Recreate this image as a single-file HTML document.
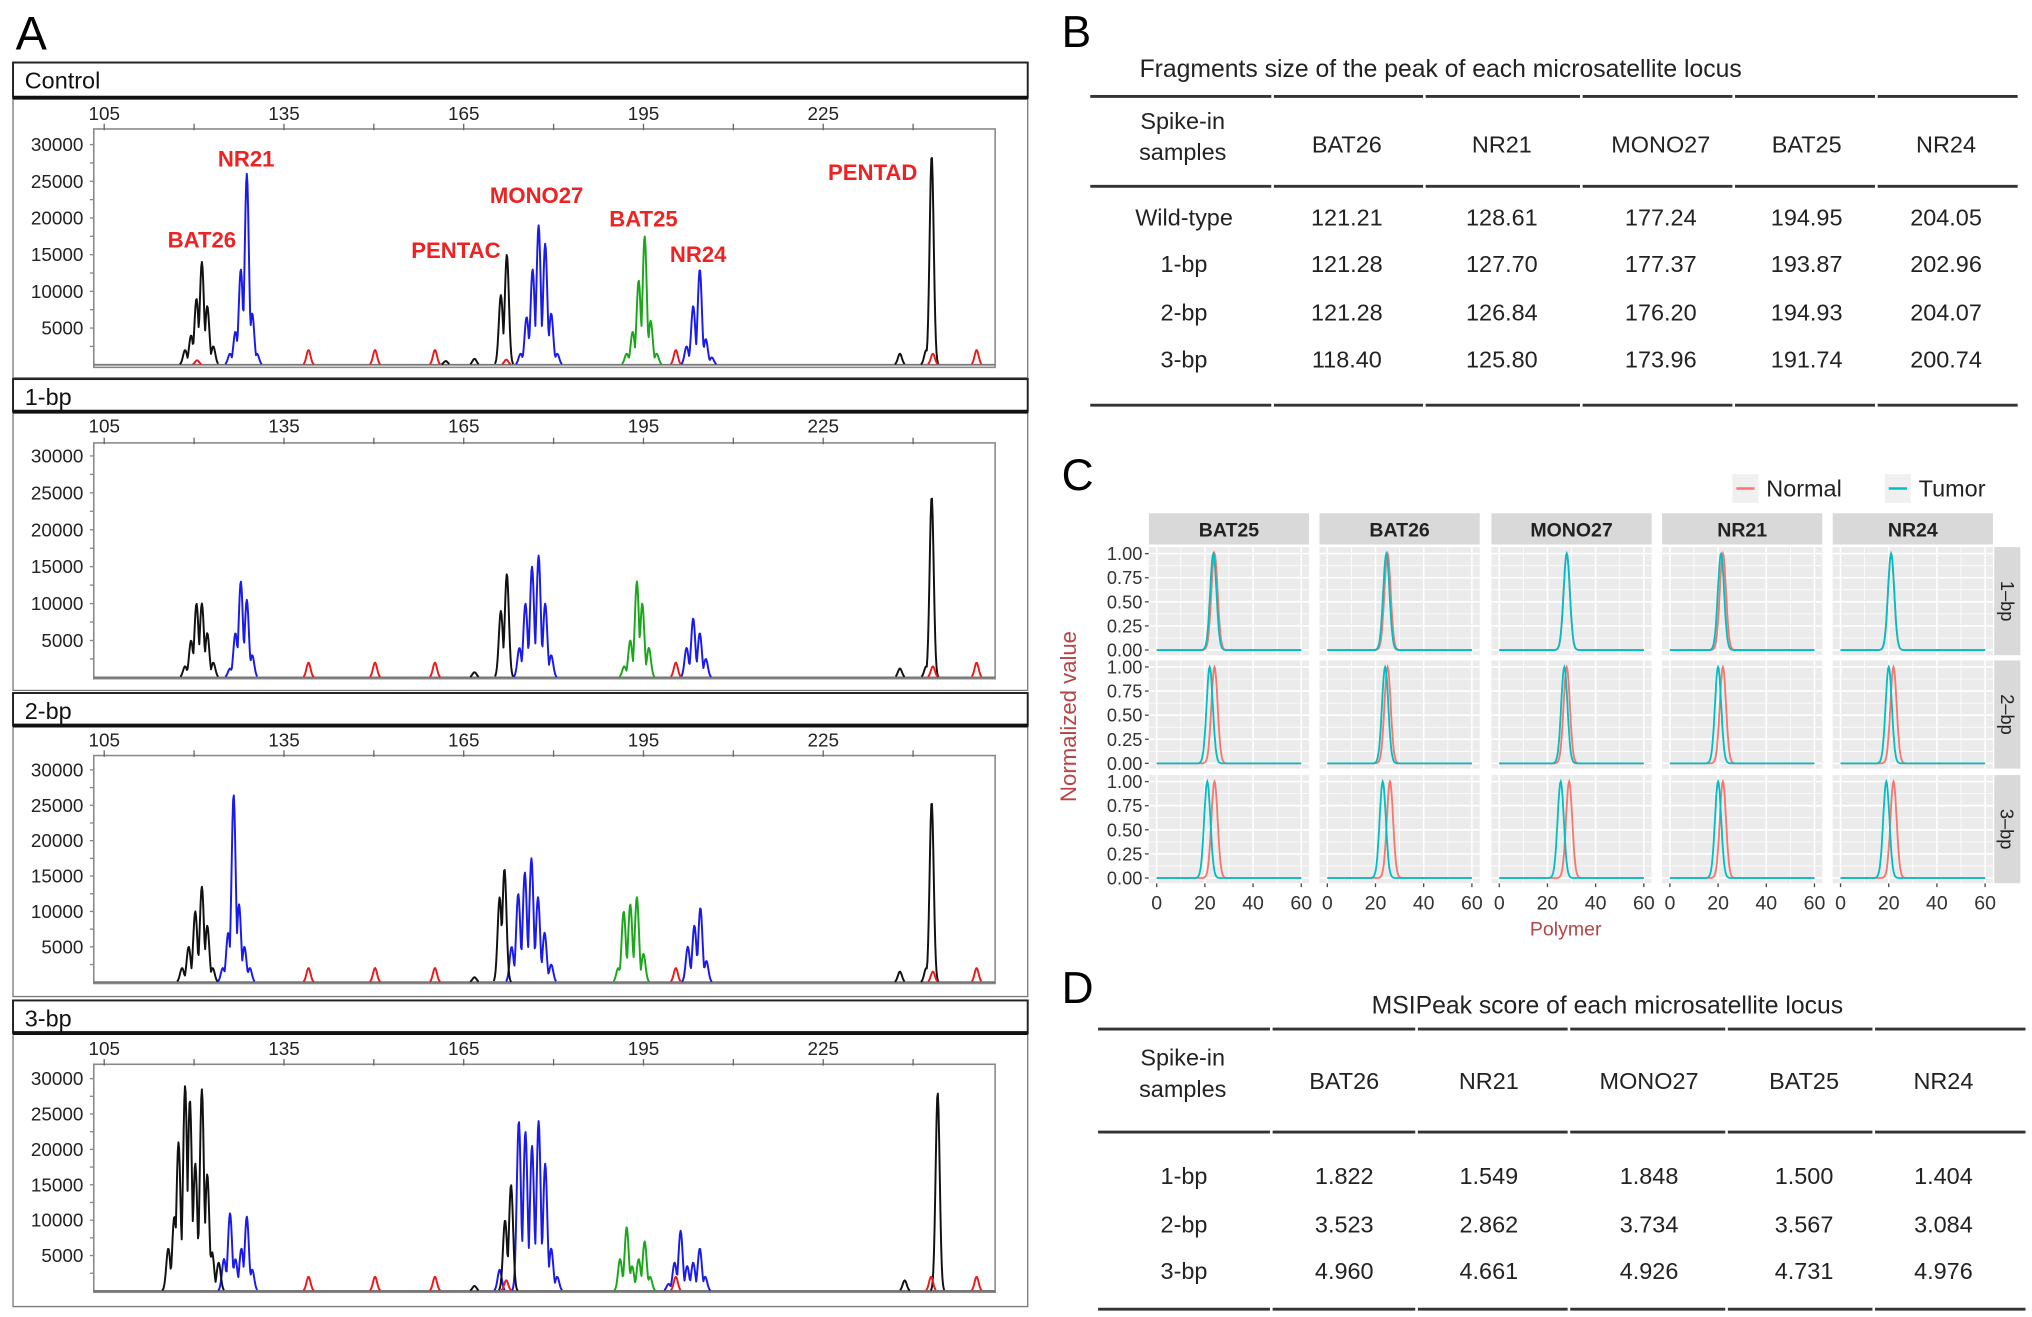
<!DOCTYPE html>
<html><head><meta charset="utf-8"><style>
html,body{margin:0;padding:0;background:#fff}
svg{display:block}
text{font-family:"Liberation Sans",Arial,sans-serif}
</style></head><body>
<svg id="fig" xmlns="http://www.w3.org/2000/svg" width="2032" height="1317" viewBox="0 0 1560 1011" preserveAspectRatio="none">
<rect x="0" y="0" width="1560" height="1011" fill="#fff"/>
<g id="panelA"></g>
<g id="panelB"></g>
<g id="panelC"></g>
<g id="panelD"></g>
</svg>
<script>
// ===== Panel A data (bp position, RFU height) =====
const panelNames = ["Control","1-bp","2-bp","3-bp"];
const xTickLabels = [105,135,165,195,225];
const yTickLabels = [5000,10000,15000,20000,25000,30000];
const ctrlBlack = [[118.5,2000],[119.5,4000],[120.4,9000],[121.3,14000],[122.2,8000],[123.2,2500],[166.8,800],[162,500],[171.2,9500],[172.2,15000],[237.8,1500],[242.2,2000],[243.1,28500]];
const ctrlBlue = [[126.0,1500],[126.9,4500],[127.8,13000],[128.8,26000],[129.7,7000],[130.5,1500],[174.5,1500],[175.5,6500],[176.5,13000],[177.5,19000],[178.6,16500],[179.6,7000],[180.6,1500],[202.2,2500],[203.3,8000],[204.4,13000],[205.4,3500],[206.4,1000]];
const ctrlGreen = [[192.2,1500],[193.2,4500],[194.2,11500],[195.2,17500],[196.2,6000],[197.2,1500]];
const ctrlRed = [[139.1,2000],[150.2,2000],[160.2,2000],[200.4,2000],[243.3,1500],[250.6,2000],[120.5,600],[172.1,700]];
const bp1Black = [[118.5,1500],[119.5,5000],[120.4,10000],[121.3,10000],[122.2,6000],[123.2,2000],[166.8,700],[171.2,9000],[172.2,14000],[237.8,1200],[242.2,1500],[243.1,24500]];
const bp1Blue = [[126.0,1200],[126.9,6000],[127.8,13000],[128.8,10500],[129.7,3000],[174.3,4000],[175.3,10000],[176.4,15000],[177.5,16500],[178.6,10000],[179.6,3000],[202.2,4000],[203.3,8000],[204.4,6000],[205.4,2500]];
const bp1Green = [[191.8,1500],[192.8,5000],[193.9,13000],[194.8,10000],[195.9,4000]];
const bp1Red = [[139.1,2000],[150.2,2000],[160.2,2000],[200.4,2000],[243.3,1500],[250.6,2000]];
const bp2Black = [[118.0,2000],[119.1,5000],[120.2,10000],[121.3,13500],[122.2,8000],[123.1,2000],[166.8,700],[171.0,12000],[171.8,16000],[237.8,1500],[242.2,2000],[243.1,25500]];
const bp2Blue = [[124.8,2000],[125.7,7000],[126.6,26500],[127.5,11000],[128.4,5000],[129.3,2000],[173.0,5000],[174.1,12500],[175.2,15500],[176.3,17500],[177.4,12000],[178.5,7000],[179.6,2500],[202.4,5000],[203.5,8000],[204.5,10500],[205.5,3000]];
const bp2Green = [[190.8,2000],[191.7,10000],[192.8,11000],[193.9,12000],[195.0,4000]];
const bp2Red = [[139.1,2000],[150.2,2000],[160.2,2000],[200.4,2000],[243.3,1500],[250.6,2000]];
const bp3Black = [[115.7,6000],[116.7,10500],[117.4,21000],[118.5,29000],[119.3,27000],[120.2,18000],[121.3,28500],[122.2,16500],[123.0,5500],[124.1,4000],[166.8,700],[171.9,10000],[172.9,15000],[238.6,1500],[244.1,28000]];
const bp3Blue = [[125.0,4500],[126.0,11000],[126.9,4500],[127.9,6000],[128.8,10500],[129.7,3000],[171.0,3000],[174.2,24000],[175.3,22500],[176.4,20500],[177.5,24000],[178.6,18000],[179.6,6000],[180.6,2000],[199.2,1000],[200.2,4000],[201.2,8500],[202.3,3500],[203.3,4000],[204.4,6000],[205.3,2000]];
const bp3Green = [[191.1,4500],[192.2,9000],[193.1,3500],[194.2,4500],[195.2,7000],[196.1,2000]];
const bp3Red = [[139.1,2000],[150.2,2000],[160.2,2000],[172.1,1500],[200.4,2000],[243.0,2000],[250.6,2000]];

// ===== Panel C data (polymer peak positions) =====
const lociC = ["BAT25","BAT26","MONO27","NR21","NR24"];
const rowsC = ["1\u2013bp","2\u2013bp","3\u2013bp"];
const normalPeaks = [[24,25,28,22,21],[24,25,28,22,22],[24,26,29,22,22]];
const tumorPeaks = [[23.5,24.5,28,21.2,21],[22,24,27,20,20],[21,23,25.5,20,19]];
const yTicksC = ["0.00","0.25","0.50","0.75","1.00"];
const xTicksC = [0,20,40,60];

// ===== Tables =====
const tableCols = ["BAT26","NR21","MONO27","BAT25","NR24"];
const tableBRows = ["Wild-type","1-bp","2-bp","3-bp"];
const tableBVals = [["121.21","128.61","177.24","194.95","204.05"],["121.28","127.70","177.37","193.87","202.96"],["121.28","126.84","176.20","194.93","204.07"],["118.40","125.80","173.96","191.74","200.74"]];
const tableDRows = ["1-bp","2-bp","3-bp"];
const tableDVals = [["1.822","1.549","1.848","1.500","1.404"],["3.523","2.862","3.734","3.567","3.084"],["4.960","4.661","4.926","4.731","4.976"]];

const NS="http://www.w3.org/2000/svg";
function el(tag,attrs,parent,txt){const e=document.createElementNS(NS,tag);for(const k in attrs)e.setAttribute(k,attrs[k]);if(txt!==undefined)e.textContent=txt;parent.appendChild(e);return e;}

// ---------- Panel A ----------
const A=document.getElementById('panelA');
const tA=el('text',{x:12,y:38,'font-size':36},A,'A');


const layout=[{hTop:48,hBot:75,yTop:111,base:280,fTop:99,fBot:282,lab:87,boxBot:290},
{hTop:291,hBot:316,yTop:350,base:520,fTop:340,fBot:521,lab:327,boxBot:530},
{hTop:532,hBot:557,yTop:591,base:754,fTop:580,fBot:755,lab:568,boxBot:765},
{hTop:768,hBot:793,yTop:828,base:991,fTop:817,fBot:992,lab:805,boxBot:1003}];
const panelData=[[ctrlBlue,ctrlGreen,ctrlBlack,ctrlRed],[bp1Blue,bp1Green,bp1Black,bp1Red],[bp2Blue,bp2Green,bp2Black,bp2Red],[bp3Blue,bp3Green,bp3Black,bp3Red]];
const dyeColors=["#1a1aee","#1aa81a","#111","#ee1a1a"];
const dyeNames=["blue-dye","green-dye","black-dye","red-dye"];
const xA=v=>80+(v-105)*4.6;
const fL=72,fR=764;
layout.forEach((L,i)=>{
  const g=el('g',{},A);
  
  
  const yA=v=>L.base-v*(L.base-L.yTop)/30000;
  el('rect',{x:10,y:L.hTop,width:779,height:L.boxBot-L.hTop,fill:'none',stroke:'#777','stroke-width':1},g);
  el('rect',{x:10,y:L.hTop,width:779,height:L.hBot-L.hTop,fill:'#fff',stroke:'#222','stroke-width':1.5},g);
  el('line',{x1:10,x2:789,y1:L.hBot,y2:L.hBot,stroke:'#111','stroke-width':3},g);
  const ht=el('text',{x:19,y:L.hTop+20,'font-size':18,fill:'#111'},g,panelNames[i]);
  
  
  el('rect',{x:fL,y:L.fTop,width:fR-fL,height:L.fBot-L.fTop,fill:'none',stroke:'#888','stroke-width':1.2},g);
  for(let v=105;v<=240;v+=15){el('line',{x1:xA(v),x2:xA(v),y1:L.fTop-4,y2:L.fTop+1,stroke:'#666','stroke-width':1},g);}
  xTickLabels.forEach(v=>{const t=el('text',{x:xA(v),y:L.lab+5,'font-size':14.5,'text-anchor':'middle',fill:'#222'},g,v);
    
    });
  yTickLabels.forEach(v=>{const t=el('text',{x:64,y:yA(v)+5,'font-size':14.5,'text-anchor':'end',fill:'#222'},g,v);
    
    });
  for(let v=2500;v<=30000;v+=2500){el('line',{x1:fL-3,x2:fL,y1:yA(v),y2:yA(v),stroke:'#888','stroke-width':1},g);}
  el('line',{x1:fL,x2:fR,y1:L.base,y2:L.base,stroke:'#777','stroke-width':1.4},g);
  panelData[i].forEach((peaks,d)=>{
    let dstr='',on=false;
    for(let px=fL+1;px<=fR-1;px+=0.5){
      const v=105+(px-80)/4.6;let h=0;
      peaks.forEach(p=>{const s=0.34;const z=(v-p[0])/s;const val=p[1]*Math.exp(-0.5*z*z);if(val>h)h=val;});
      if(h>60){dstr+=(on?'L':'M')+px.toFixed(1)+' '+yA(h).toFixed(1);on=true;}
      else on=false;
    }
    const path=el('path',{d:dstr,fill:'none',stroke:dyeColors[d],'stroke-width':1.5,'stroke-linejoin':'round'},g);
    
    
  });
  if(i===0){
    const labs=[["BAT26",155,190],["NR21",189,128],["PENTAC",350,198],["MONO27",412,156],["BAT25",494,174],["NR24",536,201],["PENTAD",670,138]];
    labs.forEach(l=>{const t=el('text',{x:l[1],y:l[2],'font-size':17,'font-weight':'bold','text-anchor':'middle',fill:'#ee2222'},g,l[0]);
      
      });
  }
});

// ---------- Table helper ----------
function drawTable(P,title,titleX,titleY,x0,x1,lineYs,colX,headerY,rows,vals,rowY,nameP){
  const tt=el('text',{x:titleX,y:titleY,'font-size':19,'text-anchor':'middle',fill:'#222'},P,title);
  
  
  const bounds=[x0,0,0,0,0,0,x1];
  for(let c=1;c<6;c++)bounds[c]=(colX[c-1]+colX[c])/2+ (c===1?6:0);
  lineYs.forEach(y=>{for(let c=0;c<6;c++){el('line',{x1:bounds[c]+1,x2:bounds[c+1]-1,y1:y,y2:y,stroke:'#333','stroke-width':2.2},P);}});
  const sh1=el('text',{x:colX[0],y:headerY-11,'font-size':18,'text-anchor':'middle',fill:'#222'},P,'Spike-in');
  
  
  el('text',{x:colX[0],y:headerY+13,'font-size':18,'text-anchor':'middle',fill:'#222'},P,'samples');
  tableCols.forEach((c,j)=>{const t=el('text',{x:colX[j+1],y:headerY+7,'font-size':18,'text-anchor':'middle',fill:'#222'},P,c);
    
    });
  rows.forEach((r,i)=>{
    const t=el('text',{x:colX[0]+1,y:rowY[i]+7,'font-size':18,'text-anchor':'middle',fill:'#222'},P,r);
    
    
    vals[i].forEach((v,j)=>{const c=el('text',{x:colX[j+1],y:rowY[i]+7,'font-size':18,'text-anchor':'middle',fill:'#222'},P,v);
      
      });
  });
}
const B=document.getElementById('panelB');
const tB=el('text',{x:815,y:36,'font-size':34},B,'B');


drawTable(B,'Fragments size of the peak of each microsatellite locus',1106,59,836,1550,[74,143,311],[908,1034,1153,1275,1387,1494],110,tableBRows,tableBVals,[166,202,239,275],'table-b');

const D=document.getElementById('panelD');
const tD=el('text',{x:815,y:770,'font-size':34},D,'D');


drawTable(D,'MSIPeak score of each microsatellite locus',1234,778,842,1556,[790,869,1005],[908,1032,1143,1266,1385,1492],829,tableDRows,tableDVals,[902,939,975],'table-d');

// ---------- Panel C ----------
const C=document.getElementById('panelC');
const tC=el('text',{x:815,y:376,'font-size':34},C,'C');


const colL=[882,1013,1145,1276,1407],colW=123;
const rowT=[420,507,595],rowH=83;
const xC=(c,v)=>colL[c]+6+v*(colW-12)/60;
const yC=(r,v)=>rowT[r]+rowH-4-v*(rowH-9);
[["Normal","#f8766d",1330],["Tumor","#00bfc4",1447]].forEach(l=>{
  const lg=el('g',{},C);
  
  
  el('rect',{x:l[2],y:364,width:20,height:22,fill:'#f0f0f0'},lg);
  el('line',{x1:l[2]+3,x2:l[2]+17,y1:375,y2:375,stroke:l[1],'stroke-width':2},lg);
  el('text',{x:l[2]+26,y:381,'font-size':18,fill:'#222'},lg,l[0]);
});
lociC.forEach((name,c)=>{
  const s=el('rect',{x:colL[c],y:394,width:colW,height:24,fill:'#d9d9d9'},C);
  
  
  el('text',{x:colL[c]+colW/2,y:412,'font-size':15,'font-weight':'bold','text-anchor':'middle',fill:'#222'},C,name);
  xTicksC.forEach(v=>{
    el('line',{x1:xC(c,v),x2:xC(c,v),y1:rowT[2]+rowH,y2:rowT[2]+rowH+3,stroke:'#444','stroke-width':1},C);
    const t=el('text',{x:xC(c,v),y:rowT[2]+rowH+20,'font-size':15,'text-anchor':'middle',fill:'#333'},C,v);
    
    
  });
});
rowsC.forEach((rn,r)=>{
  const s=el('rect',{x:1531,y:rowT[r],width:20,height:rowH,fill:'#d9d9d9'},C);
  
  
  el('text',{x:1541,y:rowT[r]+rowH/2,'font-size':14,'text-anchor':'middle',fill:'#222',transform:'rotate(90 1541 '+(rowT[r]+rowH/2)+')',dy:5},C,rn);
  yTicksC.forEach((lab,k)=>{
    const v=k*0.25;
    el('line',{x1:colL[0]-3,x2:colL[0],y1:yC(r,v),y2:yC(r,v),stroke:'#444','stroke-width':1},C);
    const t=el('text',{x:colL[0]-5,y:yC(r,v)+5,'font-size':14,'text-anchor':'end',fill:'#333'},C,lab);
    
    
  });
  lociC.forEach((name,c)=>{
    const pg=el('g',{},C);
    
    
    el('rect',{x:colL[c],y:rowT[r],width:colW,height:rowH,fill:'#ebebeb'},pg);
    for(let v=0;v<=60;v+=10){el('line',{x1:xC(c,v),x2:xC(c,v),y1:rowT[r],y2:rowT[r]+rowH,stroke:'#fff','stroke-width':v%20===0?1.2:0.6},pg);}
    for(let k=0;k<=8;k++){const v=k*0.125;el('line',{x1:colL[c],x2:colL[c]+colW,y1:yC(r,v),y2:yC(r,v),stroke:'#fff','stroke-width':k%2===0?1.2:0.6},pg);}
    [[normalPeaks[r][c],'#f8766d','normal'],[tumorPeaks[r][c],'#00bfc4','tumor']].forEach(sr=>{
      let d='';
      for(let v=0;v<=60;v+=0.25){const z=(v-sr[0])/1.3;const h=Math.exp(-0.5*z*z);d+=(d?'L':'M')+xC(c,v).toFixed(1)+' '+yC(r,h).toFixed(1);}
      const p=el('path',{d:d,fill:'none',stroke:sr[1],'stroke-width':1.4},pg);
      
      
    });
  });
});
const yt=el('text',{x:826,y:550,'font-size':17,'text-anchor':'middle',fill:'#b84545',transform:'rotate(-90 826 550)'},C,'Normalized value');


const xt=el('text',{x:1202,y:718,'font-size':15,'text-anchor':'middle',fill:'#b84545'},C,'Polymer');


</script>
</body></html>
